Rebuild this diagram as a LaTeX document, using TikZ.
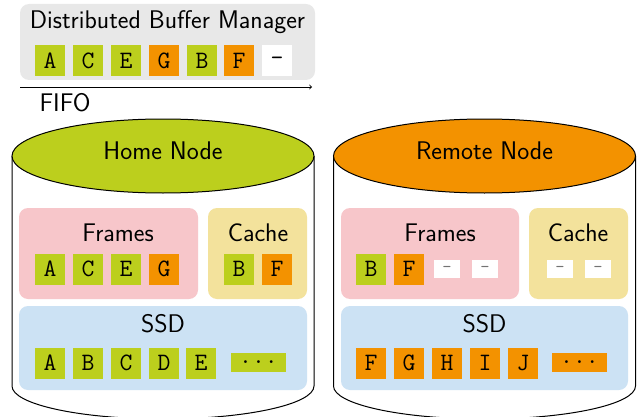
\documentclass[tikz,border=0pt]{standalone}
\usetikzlibrary{shapes.geometric}
\definecolor{cgreen}{HTML}{BCCF1D}
\definecolor{corange}{HTML}{F39200}
\definecolor{cpink}{HTML}{F7C6CA}
\definecolor{cyellow}{HTML}{F3E29C}
\definecolor{cblue}{HTML}{CCE2F4}
\definecolor{cgray}{HTML}{E8E8E8}
\begin{document}
\begin{tikzpicture}[x=1pt,y=-1pt,
  lbl/.style={font=\fontsize{25.5}{30}\selectfont\sffamily, inner sep=0pt},
  cell/.style={minimum width=30pt, minimum height=31pt, inner sep=0pt,
    font=\fontsize{25}{25}\selectfont\ttfamily},
  gcell/.style={cell, fill=cgreen},
  ocell/.style={cell, fill=corange},
  wcell/.style={cell, fill=white},
  slot/.style={minimum width=26pt, minimum height=18pt, inner sep=0pt, fill=white,
    text=black!55, font=\fontsize{18}{18}\selectfont\ttfamily},
  more/.style={minimum width=55pt, minimum height=19pt, inner sep=0pt,
    font=\fontsize{25}{25}\selectfont\ttfamily},
  panel/.style={rounded corners=9pt},
  drum/.style={ellipse, draw=black, line width=1pt, minimum width=302pt,
    minimum height=74pt, inner sep=0pt}
]
\useasboundingbox (0,0) rectangle (639,417);

% distributed buffer manager
\fill[cgray, panel] (20,4) rectangle (315,80);
\node[lbl] (dbm) at (167.5,22) {Distributed Buffer Manager};
\node[gcell] (d1) at (50,61) {A};
\node[gcell] (d2) at (88,61) {C};
\node[gcell] (d3) at (126,61) {E};
\node[ocell] (d4) at (164,61) {G};
\node[gcell] (d5) at (202,61) {B};
\node[ocell] (d6) at (239,61) {F};
\node[wcell] (d7) at (277,61) {-};

% FIFO order arrow
\coordinate (fifoL) at (20,87);
\coordinate (fifoR) at (312,87);
\draw[->, line width=0.9pt] (fifoL) -- (fifoR);
\node[lbl] (fifo) at (65,103) {FIFO};

% home node drum
\draw[line width=1pt, fill=white] (12,156) -- (12,386)
  arc[start angle=180, end angle=0, x radius=151, y radius=33] -- (314,156);
\node[drum, fill=cgreen] (home) at (163,156) {};
\node[lbl] (homelbl) at (163,151) {Home Node};

\fill[cpink, panel] (19,208) rectangle (198,299);
\fill[cyellow, panel] (208,208) rectangle (307,299);
\fill[cblue, panel] (19,306) rectangle (307,390);
\node[lbl] (hfr) at (118,233) {Frames};
\node[lbl] (hca) at (258,233) {Cache};
\node[lbl] (hssd) at (163,324) {SSD};

\node[gcell] (hf1) at (50,269) {A};
\node[gcell] (hf2) at (88,269) {C};
\node[gcell] (hf3) at (126,269) {E};
\node[ocell] (hf4) at (164,269) {G};
\node[gcell] (hc1) at (239,269) {B};
\node[ocell] (hc2) at (277,269) {F};

\node[gcell] (hs1) at (50,363) {A};
\node[gcell] (hs2) at (88,363) {B};
\node[gcell] (hs3) at (126,363) {C};
\node[gcell] (hs4) at (164,363) {D};
\node[gcell] (hs5) at (201,363) {E};
\node[more, fill=cgreen] (hs6) at (258.5,362.5) {...};

% remote node drum
\draw[line width=1pt, fill=white] (333.5,156) -- (333.5,386)
  arc[start angle=180, end angle=0, x radius=151, y radius=33] -- (635.5,156);
\node[drum, fill=corange] (remote) at (484.5,156) {};
\node[lbl] (remotelbl) at (484.5,151) {Remote Node};

\fill[cpink, panel] (341,208) rectangle (519,299);
\fill[cyellow, panel] (529,208) rectangle (628,299);
\fill[cblue, panel] (341,306) rectangle (628,390);
\node[lbl] (rfr) at (440,233) {Frames};
\node[lbl] (rca) at (578,233) {Cache};
\node[lbl] (rssd) at (484.5,324) {SSD};

\node[gcell] (rf1) at (371,269) {B};
\node[ocell] (rf2) at (409,269) {F};
\node[slot] (rf3) at (447,269) {-};
\node[slot] (rf4) at (485,269) {-};
\node[slot] (rc1) at (560,269) {-};
\node[slot] (rc2) at (598,269) {-};

\node[ocell] (rs1) at (371,363) {F};
\node[ocell] (rs2) at (409,363) {G};
\node[ocell] (rs3) at (447,363) {H};
\node[ocell] (rs4) at (485,363) {I};
\node[ocell] (rs5) at (523,363) {J};
\node[more, fill=corange] (rs6) at (579.5,362.5) {...};
\end{tikzpicture}
\end{document}
